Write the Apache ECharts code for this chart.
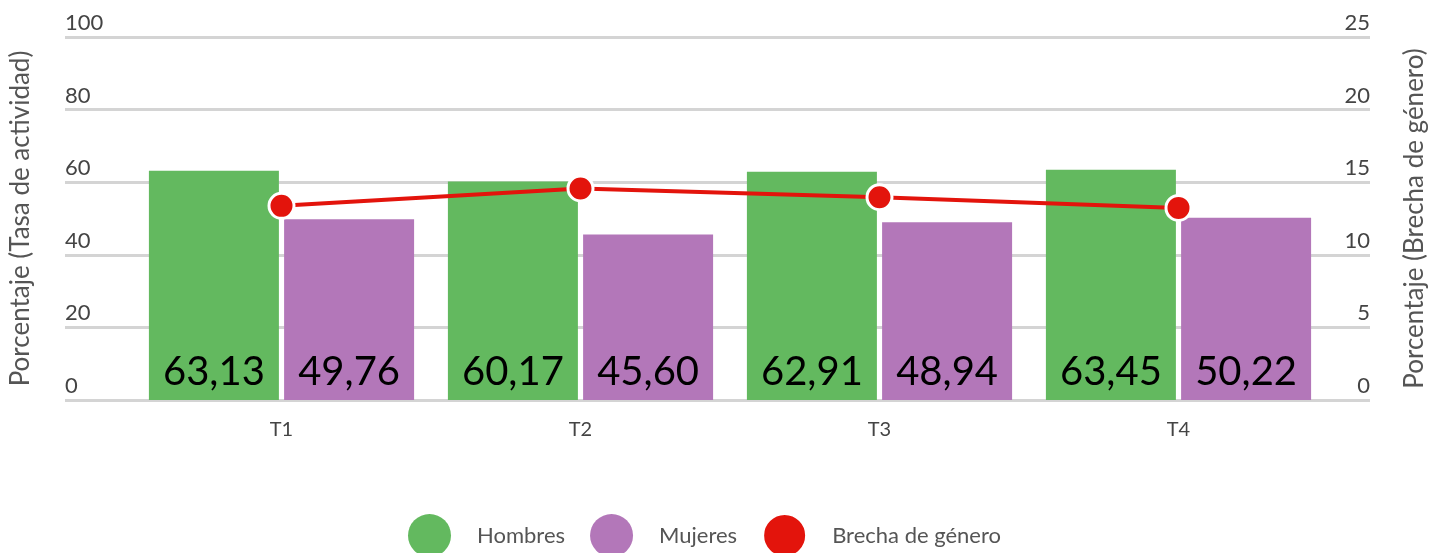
<!DOCTYPE html>
<html><head><meta charset="utf-8">
<script src="https://cdn.jsdelivr.net/npm/echarts@6/dist/echarts.min.js"></script>
<style>html,body{margin:0;padding:0;background:#fff}#c{width:1446px;height:553px}</style>
</head><body><div id="c"></div>
<script>
const categories = ['T1', 'T2', 'T3', 'T4'];
const hombres = [63.13, 60.17, 62.91, 63.45];
const mujeres = [49.76, 45.60, 48.94, 50.22];
const brecha = [13.37, 14.57, 13.97, 13.23];
const leftTicks = { min: 0, max: 100, interval: 20 };
const rightTicks = { min: 0, max: 25, interval: 5 };

const FONT = 'Lato';
const chart = echarts.init(document.getElementById('c'), null, { renderer: 'canvas' });
const fmt = p => p.value.toFixed(2).replace('.', ',');
chart.setOption({
  animation: false,
  textStyle: { fontFamily: FONT },
  grid: [
    { left: 63, right: 76, top: 37, bottom: 153 },
    { left: 132, right: 118, top: 37, bottom: 153 }
  ],
  legend: {
    top: 508, left: 403,
    itemWidth: 43, itemHeight: 43, itemGap: 25,
    icon: 'circle',
    textStyle: { fontSize: 22, color: '#555', fontFamily: FONT, padding: [0, 0, 0, 21] },
    data: ['Hombres', 'Mujeres', 'Brecha de género']
  },
  xAxis: [
    { gridIndex: 0, type: 'category', data: categories, show: false },
    { gridIndex: 1, type: 'category', data: categories,
      axisLine: { show: false }, axisTick: { show: false },
      axisLabel: { fontSize: 20, color: '#444', margin: 20, fontFamily: FONT } }
  ],
  yAxis: [
    { gridIndex: 0, type: 'value', position: 'left', min: leftTicks.min, max: leftTicks.max, interval: leftTicks.interval,
      name: 'Porcentaje (Tasa de actividad)', nameLocation: 'middle', nameGap: 31,
      nameTextStyle: { fontSize: 26, color: '#555', fontFamily: FONT },
      axisLine: { show: false }, axisTick: { show: false },
      axisLabel: { inside: true, margin: 0, verticalAlign: 'bottom', fontSize: 22, color: '#444', padding: [0, 0, 3, 0], fontFamily: FONT },
      splitLine: { show: true, lineStyle: { color: '#d4d4d4', width: 3 } } },
    { gridIndex: 0, type: 'value', position: 'right', min: rightTicks.min, max: rightTicks.max, interval: rightTicks.interval,
      name: 'Porcentaje (Brecha de género)', nameLocation: 'middle', nameGap: 32,
      nameTextStyle: { fontSize: 26, color: '#555', fontFamily: FONT },
      axisLine: { show: false }, axisTick: { show: false },
      axisLabel: { inside: true, margin: 0, verticalAlign: 'bottom', fontSize: 22, color: '#444', padding: [0, 0, 3, 0], fontFamily: FONT },
      splitLine: { show: false } },
    { gridIndex: 1, type: 'value', min: leftTicks.min, max: leftTicks.max, show: false, splitLine: { show: false } },
    { gridIndex: 1, type: 'value', min: rightTicks.min, max: rightTicks.max, show: false, splitLine: { show: false } }
  ],
  series: [
    { name: 'Hombres', type: 'bar', xAxisIndex: 1, yAxisIndex: 2, data: hombres,
      barWidth: 130, barGap: '4%', itemStyle: { color: '#63b95f' },
      label: { show: true, position: 'insideBottom', distance: 8, fontSize: 40, color: '#000', formatter: fmt, fontFamily: FONT } },
    { name: 'Mujeres', type: 'bar', xAxisIndex: 1, yAxisIndex: 2, data: mujeres,
      barWidth: 130, barGap: '4%', itemStyle: { color: '#b377b9' },
      label: { show: true, position: 'insideBottom', distance: 8, fontSize: 40, color: '#000', formatter: fmt, fontFamily: FONT } },
    { name: 'Brecha de género', type: 'line', xAxisIndex: 1, yAxisIndex: 3, data: brecha,
      symbol: 'circle', symbolSize: 25, z: 5,
      lineStyle: { color: '#e3140c', width: 4 },
      itemStyle: { color: '#e3140c', borderColor: '#fff', borderWidth: 3 } }
  ]
});
</script></body></html>
